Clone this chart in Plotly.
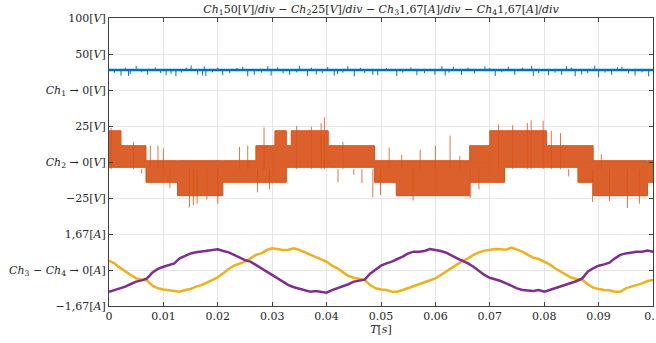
import plotly.graph_objects as go

# ---------------- data ----------------
# time base of the current traces (s)
t_cur = [i / 1000 for i in range(101)]

# Ch3 (yellow) current [A]
ch3 = [0.43, 0.31, 0.11, -0.08, -0.23, -0.39, -0.43, -0.49, -0.73, -0.85,
       -0.90, -0.93, -0.97, -1.01, -0.93, -0.88, -0.77, -0.70, -0.59, -0.46,
       -0.34, -0.15, 0.05, 0.20, 0.31, 0.39, 0.54, 0.70, 0.77, 0.93,
       1.01, 0.96, 0.93, 0.94, 1.01, 0.93, 0.82, 0.70, 0.57, 0.49,
       0.39, 0.20, 0.08, -0.11, -0.28, -0.36, -0.42, -0.46, -0.70, -0.85,
       -0.90, -0.93, -1.01, -1.01, -0.93, -0.85, -0.74, -0.66, -0.57, -0.48,
       -0.39, -0.23, -0.08, 0.08, 0.26, 0.43, 0.54, 0.70, 0.82, 0.90,
       0.93, 0.97, 0.96, 0.94, 1.04, 0.93, 0.85, 0.70, 0.57, 0.51,
       0.39, 0.26, 0.08, -0.08, -0.23, -0.36, -0.42, -0.46, -0.66, -0.82,
       -0.88, -0.93, -0.94, -1.01, -1.01, -0.85, -0.77, -0.70, -0.62, -0.51,
       -0.46]

# Ch4 (purple) current [A]
ch4 = [-1.01, -0.93, -0.85, -0.77, -0.65, -0.54, -0.48, -0.39, -0.11, 0.05,
       0.15, 0.23, 0.31, 0.54, 0.66, 0.77, 0.82, 0.85, 0.90, 0.93,
       0.96, 0.88, 0.82, 0.70, 0.57, 0.46, 0.39, 0.23, 0.08, -0.08,
       -0.23, -0.39, -0.54, -0.70, -0.80, -0.88, -0.96, -1.01, -0.97, -1.01,
       -1.05, -0.93, -0.85, -0.77, -0.66, -0.54, -0.49, -0.45, -0.17, 0.03,
       0.20, 0.31, 0.39, 0.51, 0.62, 0.77, 0.85, 0.85, 0.88, 0.97,
       0.93, 0.88, 0.80, 0.65, 0.54, 0.42, 0.31, 0.15, -0.05, -0.23,
       -0.36, -0.43, -0.51, -0.62, -0.74, -0.85, -0.93, -0.96, -0.97, -0.93,
       -1.01, -0.93, -0.85, -0.77, -0.70, -0.62, -0.51, -0.39, -0.08, 0.08,
       0.20, 0.26, 0.34, 0.54, 0.70, 0.77, 0.82, 0.85, 0.85, 0.90,
       0.85]

# Ch1 (blue) DC-link voltage [V]: level and noise spikes
ch1_t = [0.0, 0.1]
ch1_level = [27.8, 27.8]
ch1_spike_t = [0.0022, 0.0036, 0.0039, 0.0050, 0.0071, 0.0105, 0.0114, 0.0123,
               0.0151, 0.0163, 0.0172, 0.0175, 0.0178, 0.0209, 0.0246, 0.0255,
               0.0267, 0.0292, 0.0298, 0.0332, 0.0350, 0.0365, 0.0381, 0.0402,
               0.0414, 0.0420, 0.0439, 0.0451, 0.0485, 0.0494, 0.0529, 0.0566,
               0.0599, 0.0612, 0.0618, 0.0633, 0.0648, 0.0691, 0.0710, 0.0734,
               0.0746, 0.0777, 0.0780, 0.0808, 0.0832, 0.0841, 0.0857, 0.0869,
               0.0893, 0.0900, 0.0924, 0.0943, 0.0967, 0.0992,
               0.0010, 0.0030, 0.0060, 0.0085, 0.0095, 0.0133, 0.0142, 0.0190,
               0.0200, 0.0222, 0.0235, 0.0280, 0.0310, 0.0320, 0.0345, 0.0372,
               0.0392, 0.0430, 0.0462, 0.0470, 0.0510, 0.0540, 0.0555, 0.0580,
               0.0625, 0.0660, 0.0672, 0.0700, 0.0722, 0.0760, 0.0790, 0.0820,
               0.0850, 0.0880, 0.0912, 0.0935, 0.0955, 0.0980]
ch1_spike_v = [20.0, 19.5, 22.0, 33.5, 21.0, 20.5, 22.5, 19.0,
               34.0, 21.5, 20.0, 33.0, 19.5, 20.5, 32.5, 19.0,
               21.0, 33.0, 20.0, 21.0, 33.5, 19.5, 21.5, 32.0,
               20.0, 22.0, 33.0, 19.0, 21.0, 20.5, 19.5, 20.5,
               21.0, 33.0, 20.0, 32.5, 21.0, 33.0, 19.5, 32.5,
               21.0, 33.5, 19.5, 20.5, 21.0, 33.0, 19.0, 21.5,
               34.0, 18.0, 21.0, 32.5, 20.0, 19.0,
               24.0, 31.0, 24.5, 31.5, 23.5, 24.0, 31.0, 24.5,
               31.0, 23.5, 30.5, 24.0, 31.5, 23.0, 24.5, 31.0,
               23.5, 24.0, 31.0, 23.5, 30.5, 24.0, 31.5, 23.5,
               24.0, 31.0, 23.0, 30.5, 24.5, 31.0, 23.5, 24.0,
               31.0, 23.5, 24.0, 31.5, 23.0, 24.5]

# Ch2 (orange) multilevel PWM voltage [V]: switching bands (start time, upper, lower)
ch2_seg_t = [0.0, 0.0022, 0.0068, 0.0126, 0.0209, 0.0270, 0.0305, 0.0326,
             0.0335, 0.0403, 0.0488, 0.0528, 0.0663, 0.0700, 0.0727, 0.0804,
             0.0862, 0.0890, 0.0990, 0.1000]
ch2_hi = [21.7, 11.3, 0.9, 0.9, 0.9, 11.3, 21.7, 11.3,
          21.7, 11.3, 0.9, 0.9, 11.3, 21.7, 21.7, 11.3,
          11.3, 0.9, 0.9, 0.9]
ch2_lo = [-3.7, -3.7, -14.1, -23.4, -14.1, -14.1, -14.1, -3.7,
          -3.7, -3.7, -14.1, -23.4, -14.1, -14.1, -3.7, -3.7,
          -14.1, -23.4, -14.1, -14.1]
ch2_spike_t = [0.0004, 0.0076, 0.0090, 0.0148, 0.0155, 0.0162, 0.0180, 0.0200,
               0.0273, 0.0390, 0.0396, 0.0421, 0.0465, 0.0485, 0.0499, 0.0538,
               0.0559, 0.0627, 0.0664, 0.0716, 0.0769, 0.0776, 0.0798, 0.0813,
               0.0889, 0.0953, 0.0975,
               0.0045, 0.0060, 0.0100, 0.0112, 0.0240, 0.0255, 0.0285, 0.0295,
               0.0345, 0.0372, 0.0430, 0.0450, 0.0515, 0.0572, 0.0600, 0.0645,
               0.0680, 0.0742, 0.0830, 0.0845, 0.0905, 0.0920]
ch2_spike_v = [23.6, 11.3, 11.3, -31.5, -30.0, -29.0, -26.0, -29.0,
               -21.0, 27.0, 31.0, -14.0, -14.5, -24.6, -23.0, 5.0,
               -26.6, 18.3, -25.0, 26.0, 27.0, 29.0, 28.7, 21.7,
               -27.8, -32.0, -29.0,
               14.0, -8.0, 9.5, -18.0, 10.5, 11.3, 24.0, -19.0,
               25.0, 24.5, 14.0, -9.0, 10.0, 8.5, 11.3, 4.0,
               -19.0, 25.5, 20.0, -10.0, 5.5, -27.0]

# tick labels
x_ticks = [0.0, 0.01, 0.02, 0.03, 0.04, 0.05, 0.06, 0.07, 0.08, 0.09, 0.1]
x_ticklabels = ["0", "0.01", "0.02", "0.03", "0.04", "0.05", "0.06", "0.07", "0.08", "0.09", "0.1"]
y_ticks = [-100, -75, -50, -25, 0, 25, 50, 75, 100]  # on the Ch2 (25 V/div) scale
y_ticklabels = [
    "\u22121,67[<i>A</i>]",
    "<i>Ch</i><sub>3</sub> \u2212 <i>Ch</i><sub>4</sub> \u2192 0[<i>A</i>]",
    "1,67[<i>A</i>]",
    "\u221225[<i>V</i>]",
    "<i>Ch</i><sub>2</sub> \u2192 0[<i>V</i>]",
    "25[<i>V</i>]",
    "<i>Ch</i><sub>1</sub> \u2192 0[<i>V</i>]",
    "50[<i>V</i>]",
    "100[<i>V</i>]",
]
title_text = ("<i>Ch</i><sub>1</sub>50[<i>V</i>]/<i>div</i> \u2212 "
              "<i>Ch</i><sub>2</sub>25[<i>V</i>]/<i>div</i> \u2212 "
              "<i>Ch</i><sub>3</sub>1,67[<i>A</i>]/<i>div</i> \u2212 "
              "<i>Ch</i><sub>4</sub>1,67[<i>A</i>]/<i>div</i>")

BLUE, ORANGE, YELLOW, PURPLE = "#0072BD", "#D95319", "#EDB120", "#7E2F8E"
FONT = "DejaVu Serif"
TXT = "#262626"

fig = go.Figure()

# Ch1 spikes and level (y2 axis)
sx, sy = [], []
for t, v in zip(ch1_spike_t, ch1_spike_v):
    sx += [t, t, None]
    sy += [ch1_level[0], v, None]
fig.add_trace(go.Scatter(x=sx, y=sy, yaxis="y2", mode="lines",
                         line=dict(color=BLUE, width=1), hoverinfo="skip"))
fig.add_trace(go.Scatter(x=ch1_t, y=ch1_level, yaxis="y2", mode="lines",
                         line=dict(color=BLUE, width=2.6)))

# Ch2 bands (main y axis)
fig.add_trace(go.Scatter(x=ch2_seg_t, y=ch2_lo, mode="lines", line_shape="hv",
                         line=dict(color=ORANGE, width=1)))
fig.add_trace(go.Scatter(x=ch2_seg_t, y=ch2_hi, mode="lines", line_shape="hv",
                         fill="tonexty", fillcolor="rgba(217,83,25,0.92)",
                         line=dict(color=ORANGE, width=1)))
px_, py_ = [], []
for t, v in zip(ch2_spike_t, ch2_spike_v):
    px_ += [t, t, None]
    py_ += [-5.0, v, None]
fig.add_trace(go.Scatter(x=px_, y=py_, mode="lines",
                         line=dict(color=ORANGE, width=1), opacity=0.8))

# Ch3 / Ch4 currents (y3 axis)
fig.add_trace(go.Scatter(x=t_cur, y=ch3, yaxis="y3", mode="lines",
                         line=dict(color=YELLOW, width=2.5)))
fig.add_trace(go.Scatter(x=t_cur, y=ch4, yaxis="y3", mode="lines",
                         line=dict(color=PURPLE, width=2.5)))

axis_common = dict(showline=True, linecolor="#404040", linewidth=1, mirror="ticks",
                   ticks="inside", ticklen=4, tickcolor="#404040",
                   showgrid=True, gridcolor="#e6e6e6", gridwidth=1, zeroline=False,
                   automargin=False,
                   tickfont=dict(family=FONT, size=11, color=TXT))

fig.update_layout(
    width=656, height=343,
    margin=dict(l=109, r=3, t=18, b=37),
    paper_bgcolor="white", plot_bgcolor="white",
    showlegend=False,
    font=dict(family=FONT, size=11, color=TXT),
    title=dict(text=title_text, x=0.5, xref="paper", xanchor="center",
               y=1 - 9 / 343, yref="container", yanchor="middle",
               font=dict(family=FONT, size=11, color=TXT)),
    xaxis=dict(range=[0, 0.1], tickvals=x_ticks, ticktext=x_ticklabels,
               ticklabeloverflow="allow",
               title=dict(text="<i>T</i>[<i>s</i>]", standoff=2,
                          font=dict(family=FONT, size=11, color=TXT)),
               **axis_common),
    yaxis=dict(range=[-100, 100], tickvals=y_ticks, ticktext=y_ticklabels,
               **axis_common),
    yaxis2=dict(range=[-300, 100], overlaying="y", visible=False),
    yaxis3=dict(range=[-1.67, 11.69], overlaying="y", visible=False),
)

fig.write_html("out.html")
